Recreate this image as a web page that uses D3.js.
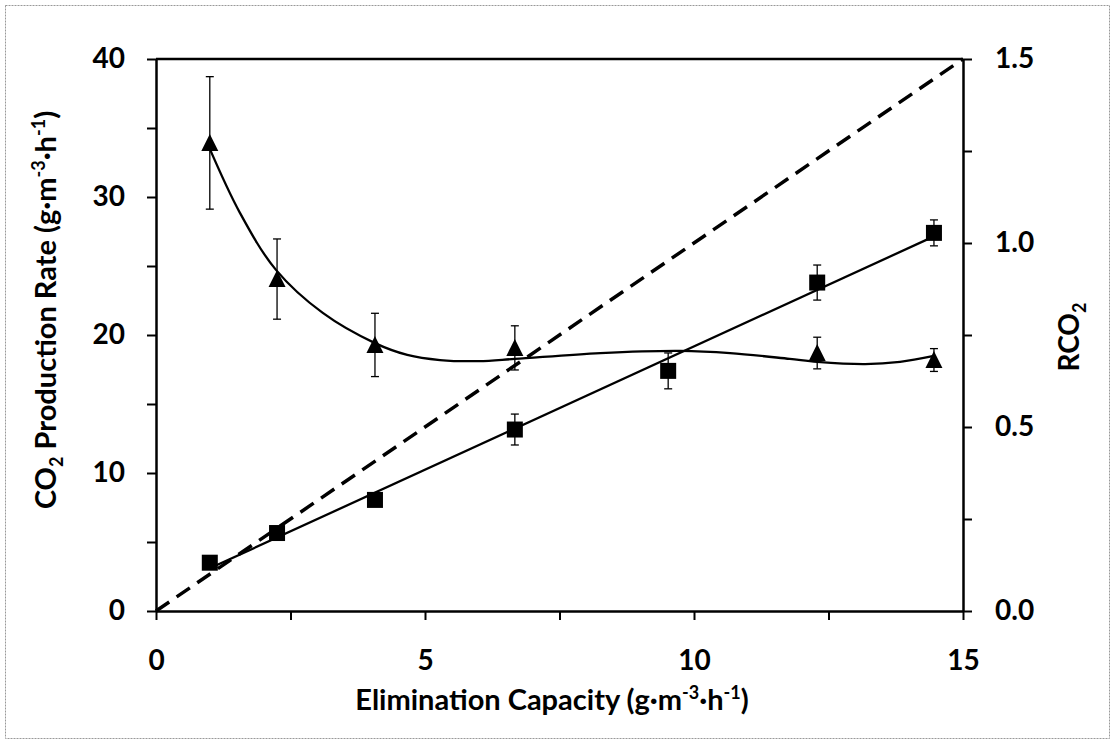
<!DOCTYPE html>
<html>
<head>
<meta charset="utf-8">
<script src="https://cdn.jsdelivr.net/npm/d3@7"></script>
<style>
  body { margin: 0; background: #fff; }
  svg { display: block; }
  text { font-family: Lato, "Open Sans", sans-serif; font-weight: bold; fill: #000; }
</style>
</head>
<body>
<svg id="chart" width="1115" height="744"></svg>
<script>
// ---------- data ----------
const eliminationCapacity = [1.0, 2.25, 4.07, 6.67, 9.52, 12.29, 14.46];
const co2Rate = [3.5, 5.65, 8.05, 13.15, 17.4, 23.8, 27.4];          // squares, left axis
const co2RateErr = [0.3, 0.35, 0.4, 1.12, 1.3, 1.27, 0.94];
const rco2 = [1.272, 0.902, 0.723, 0.715, 0.701, 0.682];             // triangles, right axis
const rco2X = [1.0, 2.25, 4.07, 6.67, 12.29, 14.46];
const rco2Err = [0.18, 0.109, 0.086, 0.06, 0.043, 0.031];
// smooth trend curve through the RCO2 points
const curveX = [0.97, 1.56, 2.23, 3.10, 4.07, 4.67, 5.28, 6.0, 6.67, 8.26, 9.75, 10.67, 11.78, 12.29, 13.18, 13.83, 14.46];
const curveR = [1.266, 1.082, 0.927, 0.810, 0.728, 0.696, 0.682, 0.679, 0.685, 0.701, 0.707, 0.701, 0.685, 0.677, 0.671, 0.677, 0.693];
// 1:1 reference line (dashed)
const refX = [0, 15];
const refR = [0, 1.5];
// ticks
const xTickValues = [0, 2.5, 5, 7.5, 10, 12.5, 15];
const xTickLabels = [0, 5, 10, 15];
const yLeftTickValues = [0, 5, 10, 15, 20, 25, 30, 35, 40];
const yLeftTickLabels = [0, 10, 20, 30, 40];
const yRightTickValues = [0, 0.25, 0.5, 0.75, 1.0, 1.25, 1.5];
const yRightTickLabels = [0, 0.5, 1.0, 1.5];

// ---------- layout ----------
const svg = d3.select("#chart");
const x = d3.scaleLinear().domain([0, 15]).range([156, 963]);
const yL = d3.scaleLinear().domain([0, 40]).range([611, 59]);
const yR = d3.scaleLinear().domain([0, 1.5]).range([611, 59]);

// outer dotted frame
svg.append("rect").attr("x", 5.5).attr("y", 5.5).attr("width", 1104).attr("height", 733)
  .attr("fill", "none").attr("stroke", "#999").attr("stroke-width", 1).attr("stroke-dasharray", "2,1");

// axes
function styleAxis(g) {
  g.select(".domain").attr("stroke", "#000").attr("stroke-width", 2.5);
  g.selectAll(".tick line").attr("stroke", "#000").attr("stroke-width", 2);
  g.selectAll(".tick text").style("font-size", "28px").style("font-family", "Lato, 'Open Sans', sans-serif").style("font-weight", "bold");
}
svg.append("g").attr("transform", "translate(0,611)")
  .call(d3.axisBottom(x).tickValues(xTickValues).tickSize(9).tickSizeOuter(0).tickPadding(30)
    .tickFormat(d => xTickLabels.includes(d) ? d3.format("d")(d) : ""))
  .call(styleAxis);
svg.append("g").attr("transform", "translate(156,0)")
  .call(d3.axisLeft(yL).tickValues(yLeftTickValues).tickSize(9).tickSizeOuter(0).tickPadding(22)
    .tickFormat(d => yLeftTickLabels.includes(d) ? d3.format("d")(d) : ""))
  .call(styleAxis);
svg.append("g").attr("transform", "translate(963,0)")
  .call(d3.axisRight(yR).tickValues(yRightTickValues).tickSize(9).tickSizeOuter(0).tickPadding(23)
    .tickFormat(d => yRightTickLabels.includes(d) ? d3.format(".1f")(d) : ""))
  .call(styleAxis);
// top border of plot area
svg.append("line").attr("x1", x(0)).attr("x2", x(15)).attr("y1", yL(40)).attr("y2", yL(40))
  .attr("stroke", "#000").attr("stroke-width", 2.5);

// dashed reference line
svg.append("path").datum(refX.map((d, i) => [d, refR[i]]))
  .attr("d", d3.line().x(d => x(d[0])).y(d => yR(d[1])))
  .attr("fill", "none").attr("stroke", "#000").attr("stroke-width", 3.5).attr("stroke-dasharray", "16,9");

// linear fit of CO2 production rate
const mx = d3.mean(eliminationCapacity), my = d3.mean(co2Rate);
const sxy = d3.sum(eliminationCapacity.map((v, i) => (v - mx) * (co2Rate[i] - my)));
const sxx = d3.sum(eliminationCapacity.map(v => (v - mx) * (v - mx)));
const slope = sxy / sxx, icpt = my - slope * mx;
const fitX = [d3.min(eliminationCapacity), d3.max(eliminationCapacity)];
svg.append("path").datum(fitX.map(v => [v, icpt + slope * v]))
  .attr("d", d3.line().x(d => x(d[0])).y(d => yL(d[1])))
  .attr("fill", "none").attr("stroke", "#000").attr("stroke-width", 2.3);

// RCO2 smooth curve
svg.append("path").datum(curveX.map((v, i) => [v, curveR[i]]))
  .attr("d", d3.line().x(d => x(d[0])).y(d => yR(d[1])).curve(d3.curveCatmullRom.alpha(0.5)))
  .attr("fill", "none").attr("stroke", "#000").attr("stroke-width", 2.3);

// error bars
function errorBars(xs, vs, es, yScale) {
  const g = svg.append("g").attr("stroke", "#000").attr("stroke-width", 1.3);
  xs.forEach((xv, i) => {
    const cx = x(xv), y1 = yScale(vs[i] - es[i]), y2 = yScale(vs[i] + es[i]);
    g.append("line").attr("x1", cx).attr("x2", cx).attr("y1", y1).attr("y2", y2);
    g.append("line").attr("x1", cx - 4).attr("x2", cx + 4).attr("y1", y1).attr("y2", y1);
    g.append("line").attr("x1", cx - 4).attr("x2", cx + 4).attr("y1", y2).attr("y2", y2);
  });
}
errorBars(eliminationCapacity, co2Rate, co2RateErr, yL);
errorBars(rco2X, rco2, rco2Err, yR);

// square markers
svg.append("g").selectAll("rect").data(eliminationCapacity).join("rect")
  .attr("x", (d) => x(d) - 8).attr("y", (d, i) => yL(co2Rate[i]) - 8)
  .attr("width", 16).attr("height", 16).attr("fill", "#000");

// triangle markers
svg.append("g").selectAll("path").data(rco2X).join("path")
  .attr("transform", (d, i) => `translate(${x(d)},${yR(rco2[i])})`)
  .attr("d", "M0,-9L8.5,8L-8.5,8Z").attr("fill", "#000");

// axis titles
const bt = svg.append("text").attr("x", 552).attr("y", 710).attr("text-anchor", "middle").style("font-size", "29px");
bt.append("tspan").text("Elimination Capacity (g·m");
bt.append("tspan").attr("dy", -11).style("font-size", "18px").text("-3");
bt.append("tspan").attr("dy", 11).text("·h");
bt.append("tspan").attr("dy", -11).style("font-size", "18px").text("-1");
bt.append("tspan").attr("dy", 11).text(")");

const lt = svg.append("text").attr("transform", "translate(56,310) rotate(-90)").attr("text-anchor", "middle").style("font-size", "29px");
lt.append("tspan").text("CO");
lt.append("tspan").attr("dy", 7).style("font-size", "18px").text("2");
lt.append("tspan").attr("dy", -7).text(" Production Rate (g·m");
lt.append("tspan").attr("dy", -11).style("font-size", "18px").text("-3");
lt.append("tspan").attr("dy", 11).text("·h");
lt.append("tspan").attr("dy", -11).style("font-size", "18px").text("-1");
lt.append("tspan").attr("dy", 11).text(")");

const rt = svg.append("text").attr("transform", "translate(1079,337) rotate(-90)").attr("text-anchor", "middle").style("font-size", "28px");
rt.append("tspan").text("RCO");
rt.append("tspan").attr("dy", 7).style("font-size", "18px").text("2");
</script>
</body>
</html>
